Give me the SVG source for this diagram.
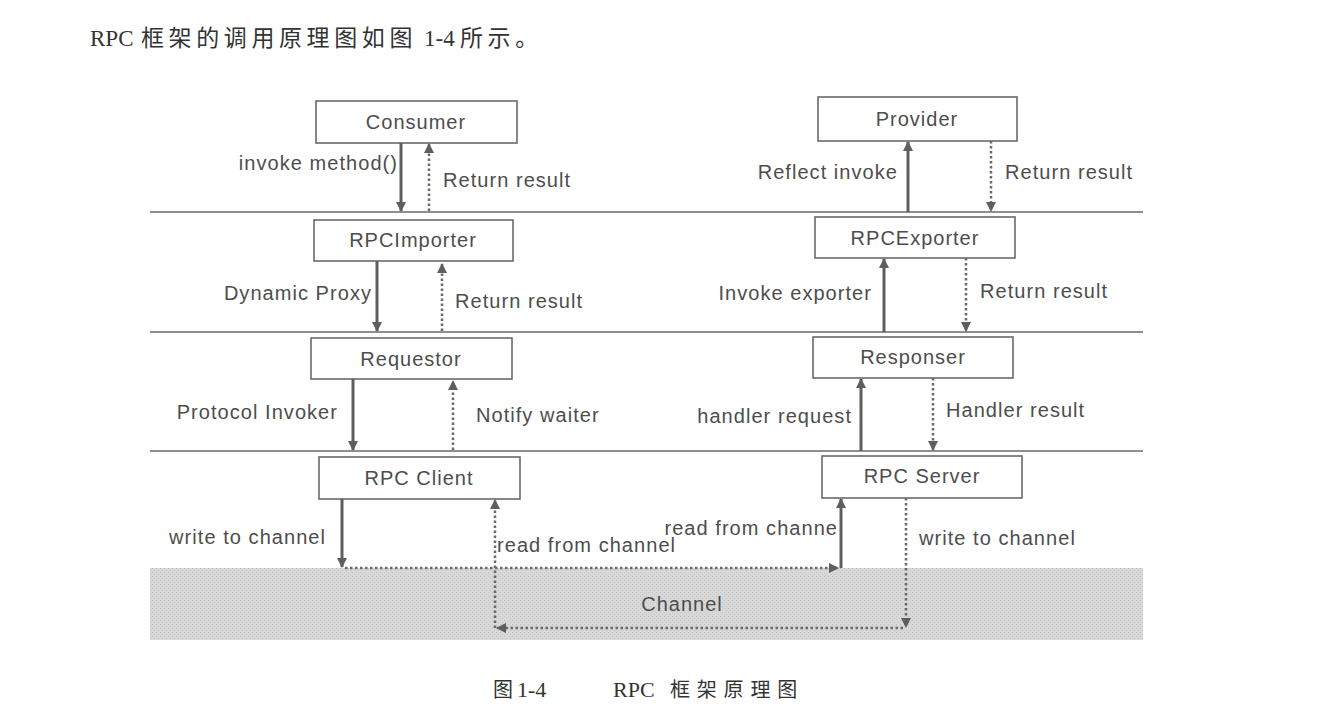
<svg xmlns="http://www.w3.org/2000/svg" width="1317" height="717" viewBox="0 0 1317 717">
<defs>
<style>
.lbl{font-family:"Liberation Sans",Arial,sans-serif;font-size:20px;fill:#4d4d4d;letter-spacing:1.05px}
.nt{font-family:"Liberation Sans",Arial,sans-serif;font-size:20px;fill:#4d4d4d;letter-spacing:1px;text-anchor:middle}
.box{fill:#fff;stroke:#6a6a6a;stroke-width:1.6}
.sep{stroke:#6a6a6a;stroke-width:1.6}
.solid{stroke:#5e5e5e;stroke-width:3;fill:none}
.dot{stroke:#6a6a6a;stroke-width:2.5;stroke-dasharray:2.5 2.5;fill:none}
.zh{font-family:"Liberation Serif","Noto Sans CJK SC",serif;fill:#333}
</style>
<marker id="ah" viewBox="0 0 10 10" refX="9" refY="5" markerWidth="10" markerHeight="10" markerUnits="userSpaceOnUse" orient="auto">
<path d="M0,0 L10,5 L0,10 z" fill="#5e5e5e"/>
</marker>
<pattern id="grain" width="4" height="4" patternUnits="userSpaceOnUse">
<rect width="4" height="4" fill="#d8d8d8"/>
<rect x="0" y="0" width="1" height="1" fill="#c4c4c4"/>
<rect x="2" y="2" width="1" height="1" fill="#c4c4c4"/>
</pattern>
</defs>
<rect width="1317" height="717" fill="#fff"/>

<text class="zh" x="90" y="46" font-size="23">RPC</text>
<text class="zh" x="141" y="46" font-size="23" letter-spacing="4.6">框架的调用原理图如图</text>
<text class="zh" x="424" y="46" font-size="23">1-4</text>
<text class="zh" x="460" y="46" font-size="23" letter-spacing="4.6">所示。</text>

<g id="channel">
<rect x="150" y="568" width="993" height="72" fill="url(#grain)"/>
<text class="nt" x="682" y="611">Channel</text>
</g>

<g id="separators">
<line class="sep" x1="150" y1="212" x2="1143" y2="212"/>
<line class="sep" x1="150" y1="332" x2="1143" y2="332"/>
<line class="sep" x1="150" y1="451" x2="1143" y2="451"/>
</g>

<g id="consumer"><rect class="box" x="316" y="101" width="201" height="42"/><text class="nt" x="416" y="129">Consumer</text></g>
<g id="provider"><rect class="box" x="818" y="97" width="199" height="44"/><text class="nt" x="917" y="126">Provider</text></g>
<g id="rpcimporter"><rect class="box" x="314" y="220" width="199" height="41"/><text class="nt" x="413" y="247">RPCImporter</text></g>
<g id="rpcexporter"><rect class="box" x="815" y="217" width="200" height="41"/><text class="nt" x="915" y="245">RPCExporter</text></g>
<g id="requestor"><rect class="box" x="311" y="338" width="201" height="41"/><text class="nt" x="411" y="366">Requestor</text></g>
<g id="responser"><rect class="box" x="813" y="337" width="200" height="41"/><text class="nt" x="913" y="364">Responser</text></g>
<g id="rpcclient"><rect class="box" x="319" y="457" width="201" height="42"/><text class="nt" x="419" y="485">RPC Client</text></g>
<g id="rpcserver"><rect class="box" x="822" y="456" width="200" height="42"/><text class="nt" x="922" y="483">RPC Server</text></g>

<g id="connectors">
<line class="solid" x1="401" y1="143" x2="401" y2="211" marker-end="url(#ah)"/>
<line class="dot" x1="429" y1="211" x2="429" y2="144" marker-end="url(#ah)"/>
<line class="solid" x1="908" y1="212" x2="908" y2="142" marker-end="url(#ah)"/>
<line class="dot" x1="991" y1="141" x2="991" y2="211" marker-end="url(#ah)"/>
<line class="solid" x1="377" y1="261" x2="377" y2="331" marker-end="url(#ah)"/>
<line class="dot" x1="442" y1="331" x2="442" y2="264" marker-end="url(#ah)"/>
<line class="solid" x1="884" y1="332" x2="884" y2="259" marker-end="url(#ah)"/>
<line class="dot" x1="966" y1="258" x2="966" y2="331" marker-end="url(#ah)"/>
<line class="solid" x1="353" y1="379" x2="353" y2="450" marker-end="url(#ah)"/>
<line class="dot" x1="453" y1="450" x2="453" y2="381" marker-end="url(#ah)"/>
<line class="solid" x1="861" y1="451" x2="861" y2="379" marker-end="url(#ah)"/>
<line class="dot" x1="933" y1="378" x2="933" y2="450" marker-end="url(#ah)"/>
<line class="solid" x1="342" y1="499" x2="342" y2="567" marker-end="url(#ah)"/>
<line class="dot" x1="345" y1="568" x2="838" y2="568" marker-end="url(#ah)"/>
<line class="solid" x1="841" y1="568" x2="841" y2="499" marker-end="url(#ah)"/>
<line class="dot" x1="906" y1="498" x2="906" y2="627" marker-end="url(#ah)"/>
<line class="dot" x1="903" y1="628" x2="497" y2="628" marker-end="url(#ah)"/>
<line class="dot" x1="495" y1="628" x2="495" y2="500" marker-end="url(#ah)"/>
</g>

<g id="labels">
<text class="lbl" x="398" y="170" text-anchor="end">invoke method()</text>
<text class="lbl" x="443" y="187">Return result</text>
<text class="lbl" x="898" y="179" text-anchor="end">Reflect invoke</text>
<text class="lbl" x="1005" y="179">Return result</text>
<text class="lbl" x="372" y="300" text-anchor="end">Dynamic Proxy</text>
<text class="lbl" x="455" y="308">Return result</text>
<text class="lbl" x="872" y="300" text-anchor="end">Invoke exporter</text>
<text class="lbl" x="980" y="298">Return result</text>
<text class="lbl" x="338" y="419" text-anchor="end">Protocol Invoker</text>
<text class="lbl" x="476" y="422">Notify waiter</text>
<text class="lbl" x="852" y="423" text-anchor="end">handler request</text>
<text class="lbl" x="946" y="417">Handler result</text>
<text class="lbl" x="326" y="544" text-anchor="end">write to channel</text>
<text class="lbl" x="497" y="552">read from channel</text>
<text class="lbl" x="838" y="535" text-anchor="end">read from channe</text>
<text class="lbl" x="919" y="545">write to channel</text>
</g>

<text class="zh" x="493" y="697" font-size="20">图</text>
<text class="zh" x="517" y="697" font-size="22">1-4</text>
<text class="zh" x="613" y="697" font-size="22">RPC</text>
<text class="zh" x="670" y="697" font-size="20" letter-spacing="6.8">框架原理图</text>
</svg>
